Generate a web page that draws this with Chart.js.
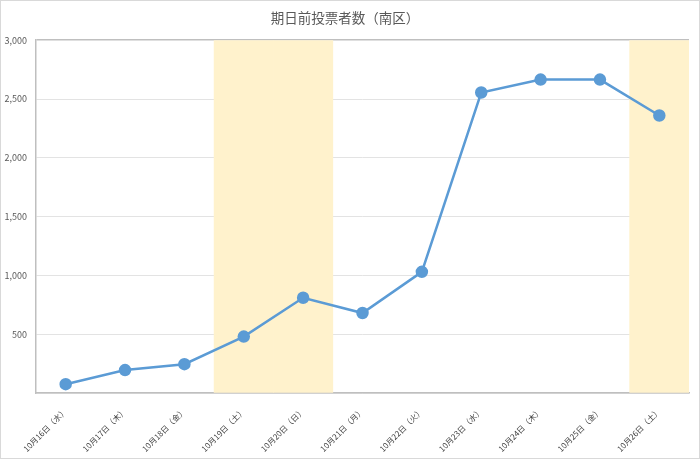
<!DOCTYPE html>
<html>
<head>
<meta charset="utf-8">
<script src="https://cdn.jsdelivr.net/npm/chart.js@4"></script>
<style>
  html, body { margin: 0; padding: 0; background: #fff; }
  #wrap { width: 700px; height: 459px; box-sizing: border-box; border: 1px solid #d9d9d9; }
</style>
</head>
<body>
<div id="wrap"><canvas id="chart"></canvas></div>
<script>
const days = ["10月16日（水）", "10月17日（木）", "10月18日（金）", "10月19日（土）", "10月20日（日）", "10月21日（月）",
              "10月22日（火）", "10月23日（水）", "10月24日（木）", "10月25日（金）", "10月26日（土）"];
const voters = [75, 195, 245, 480, 810, 680, 1030, 2555, 2665, 2665, 2360];
const weekend = [false, false, false, true, true, false, false, false, false, false, true];
const yMax = 3000;
const yStep = 500;

const textColor = "#595959";
const font = { family: "'Noto Sans CJK JP', 'Noto Sans', sans-serif", size: 9 };

new Chart(document.getElementById("chart"), {
  type: "bar",
  data: {
    labels: days,
    datasets: [
      {
        type: "line",
        data: voters,
        borderColor: "#5b9bd5",
        backgroundColor: "#5b9bd5",
        borderWidth: 2.5,
        pointRadius: 5,
        pointBackgroundColor: "#5b9bd5",
        pointBorderColor: "#5b9bd5",
        tension: 0,
        order: 0
      },
      {
        type: "bar",
        data: weekend.map(w => w ? yMax : null),
        backgroundColor: "#fff2cc",
        barPercentage: 1,
        categoryPercentage: 1,
        order: 1
      }
    ]
  },
  options: {
    responsive: true,
    maintainAspectRatio: false,
    animation: false,
    layout: { padding: { left: 0, right: 10, top: 0, bottom: 0 } },
    plugins: {
      legend: { display: false },
      tooltip: { enabled: false },
      title: {
        display: true,
        text: "期日前投票者数（南区）",
        color: textColor,
        font: { family: font.family, size: 13.5, weight: "normal" },
        padding: { top: 9, bottom: 14 }
      }
    },
    scales: {
      x: {
        grid: { display: false },
        border: { display: true, color: "#bfbfbf", width: 1.5 },
        ticks: {
          color: "#404040",
          font: { family: font.family, size: 8 },
          maxRotation: 45, minRotation: 45, autoSkip: false, padding: 5
        },
        afterFit: s => { s.height = 65; }
      },
      y: {
        min: 0,
        max: yMax,
        grid: {
          drawTicks: false,
          color: ctx => ctx.tick && ctx.tick.value === yMax ? "#bfbfbf" : "#e3e3e3",
          lineWidth: ctx => ctx.tick && ctx.tick.value === yMax ? 1.5 : 1
        },
        border: { display: true, color: "#bfbfbf", width: 1.5 },
        ticks: {
          stepSize: yStep,
          color: textColor,
          font: font,
          padding: 9,
          callback: v => v === 0 ? "" : v.toLocaleString("en-US")
        },
        afterFit: s => { s.width = 35; }
      }
    }
  }
});
</script>
</body>
</html>
